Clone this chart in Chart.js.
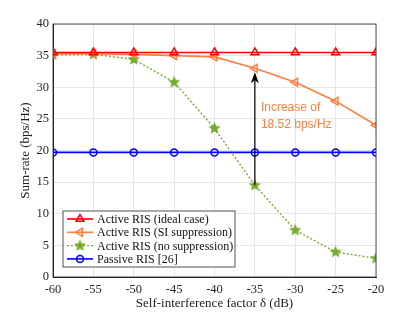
<!DOCTYPE html>
<html lang="en">
<head>
<meta charset="UTF-8">
<title>Sum-rate vs self-interference</title>
<script src="https://cdn.jsdelivr.net/npm/chart.js"></script>
<style>
  html, body { margin: 0; padding: 0; background: #fff; }
  #wrap { width: 415px; height: 312px; }
</style>
</head>
<body>
<div id="wrap"><canvas id="rateChart" width="415" height="312"></canvas></div>
<script>
// data
const deltaDb = [-60, -55, -50, -45, -40, -35, -30, -25, -20];
const activeIdeal = [35.5, 35.5, 35.5, 35.5, 35.5, 35.5, 35.5, 35.5, 35.5];
const activeSI = [35.3, 35.3, 35.2, 35.0, 34.8, 33.0, 30.8, 27.8, 24.0];
const activeNoSup = [35.1, 35.2, 34.4, 30.8, 23.5, 14.5, 7.4, 3.95, 2.95];
const passive = [19.7, 19.7, 19.7, 19.7, 19.7, 19.7, 19.7, 19.7, 19.7];
const seriesNames = ['Active RIS (ideal case)', 'Active RIS (SI suppression)', 'Active RIS (no suppression)', 'Passive RIS [26]'];
const yTicks = [0, 5, 10, 15, 20, 25, 30, 35, 40];
const arrowAt = -35;
const noteLines = ['Increase of', '18.52 bps/Hz'];

const serif = "'Liberation Serif', 'DejaVu Serif', serif";

function pts(ys) {
    return deltaDb.map((x, i) => ({ x: x, y: ys[i] }));
}

// filled five point star marker (matlab 'p')
function starImage(color, r) {
    const c = document.createElement('canvas');
    const s = Math.ceil(r * 2 + 2);
    c.width = s; c.height = s;
    const g = c.getContext('2d');
    g.fillStyle = color;
    g.beginPath();
    for (let k = 0; k < 10; k++) {
        const rr = k % 2 === 0 ? r : r * 0.45;
        const a = -Math.PI / 2 + k * Math.PI / 5;
        const px = s / 2 + rr * Math.cos(a), py = s / 2 + rr * Math.sin(a);
        if (k === 0) g.moveTo(px, py); else g.lineTo(px, py);
    }
    g.closePath();
    g.fill();
    return c;
}
const star = starImage('#77ac30', 6.5);

// arrow + text + legend + box
const extras = {
    id: 'extras',
    afterDatasetsDraw(chart) {
        const ctx = chart.ctx;
        const xs = chart.scales.x, ys = chart.scales.y;
        const i = deltaDb.indexOf(arrowAt);
        const ax = xs.getPixelForValue(arrowAt);
        const y0 = ys.getPixelForValue(activeNoSup[i]);
        const y1 = ys.getPixelForValue(activeSI[i]) + 4;
        ctx.save();
        ctx.strokeStyle = '#000';
        ctx.fillStyle = '#000';
        ctx.lineWidth = 1.2;
        ctx.beginPath();
        ctx.moveTo(ax, y0);
        ctx.lineTo(ax, y1 + 8);
        ctx.stroke();
        ctx.beginPath();
        ctx.moveTo(ax, y1);
        ctx.lineTo(ax - 4, y1 + 11);
        ctx.lineTo(ax, y1 + 8);
        ctx.lineTo(ax + 4, y1 + 11);
        ctx.closePath();
        ctx.fill();

        // note
        ctx.fillStyle = '#ff7f3f';
        ctx.font = "12px 'Liberation Sans', Arial, sans-serif";
        ctx.textBaseline = 'middle';
        ctx.fillText(noteLines[0], ax + 6, ys.getPixelForValue(26.8));
        ctx.fillText(noteLines[1], ax + 6, ys.getPixelForValue(24.1));

        // box around plot
        const a = chart.chartArea;
        ctx.strokeStyle = '#262626';
        ctx.lineWidth = 0.8;
        ctx.strokeRect(a.left, a.top, a.right - a.left, a.bottom - a.top);

        // legend
        const lx = a.left + 10, ly = 211, lw = 172, lh = 56;
        ctx.fillStyle = '#fff';
        ctx.fillRect(lx, ly, lw, lh);
        ctx.strokeStyle = '#262626';
        ctx.lineWidth = 0.8;
        ctx.strokeRect(lx, ly, lw, lh);
        ctx.font = '12px ' + serif;
        ctx.textBaseline = 'middle';
        chart.data.datasets.forEach((ds, k) => {
            const ry = ly + 8 + k * 13.3;
            ctx.save();
            ctx.strokeStyle = ds.borderColor;
            ctx.lineWidth = ds.borderWidth;
            ctx.setLineDash(ds.borderDash || []);
            ctx.beginPath();
            ctx.moveTo(lx + 4, ry);
            ctx.lineTo(lx + 30, ry);
            ctx.stroke();
            ctx.setLineDash([]);
            ctx.strokeStyle = ds.pointBorderColor;
            ctx.fillStyle = ds.pointBackgroundColor;
            ctx.lineWidth = ds.pointBorderWidth;
            Chart.helpers.drawPoint(ctx, {
                pointStyle: ds.pointStyle,
                radius: ds.pointRadius,
                rotation: ds.pointRotation || 0,
                borderWidth: ds.pointBorderWidth
            }, lx + 17, ry);
            ctx.restore();
            ctx.fillStyle = '#111';
            ctx.fillText(ds.label, lx + 34, ry + 1);
        });
        ctx.restore();
    }
};

const chart = new Chart(document.getElementById('rateChart'), {
    type: 'line',
    data: {
        datasets: [
            {
                label: seriesNames[0], data: pts(activeIdeal),
                borderColor: '#ff0000', borderWidth: 1.6,
                pointStyle: 'triangle', pointRadius: 4.5, pointBorderWidth: 1.5,
                pointBackgroundColor: 'rgba(255,255,255,0)', pointBorderColor: '#ff0000'
            },
            {
                label: seriesNames[1], data: pts(activeSI),
                borderColor: '#ff7f3f', borderWidth: 1.6,
                pointStyle: 'triangle', pointRotation: -90, pointRadius: 4.5, pointBorderWidth: 1.5,
                pointBackgroundColor: 'rgba(255,255,255,0)', pointBorderColor: '#ff7f3f'
            },
            {
                label: seriesNames[2], data: pts(activeNoSup),
                borderColor: '#77ac30', borderWidth: 1.4, borderDash: [2, 2],
                pointStyle: star, pointRadius: 6, pointBorderWidth: 1,
                pointBackgroundColor: '#77ac30', pointBorderColor: '#77ac30'
            },
            {
                label: seriesNames[3], data: pts(passive),
                borderColor: '#0000ff', borderWidth: 1.6,
                pointStyle: 'circle', pointRadius: 3.5, pointBorderWidth: 1.5,
                pointBackgroundColor: 'rgba(255,255,255,0)', pointBorderColor: '#0000ff'
            }
        ]
    },
    options: {
        responsive: false,
        animation: false,
        layout: { padding: { left: 14, right: 39, top: 24, bottom: 1 } },
        plugins: { legend: { display: false }, tooltip: { enabled: false } },
        scales: {
            x: {
                type: 'linear', min: -60, max: -20,
                afterFit(s) { s.height = 34; },
                ticks: { stepSize: 5, color: '#262626', font: { family: serif, size: 12.5 }, padding: 5 },
                grid: { color: '#e6e6e6', drawTicks: false },
                border: { color: '#262626' },
                title: { display: true, text: 'Self-interference factor \u03b4 (dB)', color: '#222', font: { family: serif, size: 13 }, padding: { top: 0, bottom: 0 } }
            },
            y: {
                min: 0, max: 40,
                afterFit(s) { s.width = 39; },
                afterBuildTicks(s) { s.ticks = yTicks.map(v => ({ value: v })); },
                ticks: { color: '#262626', font: { family: serif, size: 12.5 }, padding: 4 },
                grid: { color: '#e6e6e6', drawTicks: false },
                border: { color: '#262626' },
                title: { display: true, text: 'Sum-rate (bps/Hz)', color: '#222', font: { family: serif, size: 13 }, padding: { bottom: 0 } }
            }
        }
    },
    plugins: [extras]
});
</script>
</body>
</html>
